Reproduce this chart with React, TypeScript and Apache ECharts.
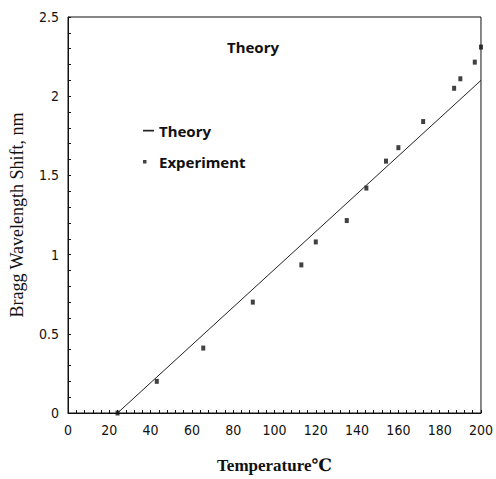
import React, { useEffect, useRef } from "react";
import * as echarts from "echarts";

// Experimental data: temperature (°C) vs Bragg wavelength shift (nm)
const expTemps = [24, 43, 65.5, 89.5, 113, 120, 135, 144.5, 154, 160, 172, 187, 190, 197, 200];
const expShifts = [0, 0.2, 0.41, 0.7, 0.935, 1.08, 1.215, 1.42, 1.59, 1.675, 1.84, 2.05, 2.11, 2.215, 2.31];

// Theory line endpoints
const theoryTemps = [24, 200];
const theoryShifts = [0, 2.1];

const xTicks = [0, 20, 40, 60, 80, 100, 120, 140, 160, 180, 200];
const yTicks = [0, 0.5, 1, 1.5, 2, 2.5];

const labelFont = "'Liberation Sans Narrow', 'DejaVu Sans Condensed', 'Arial Narrow', 'Liberation Sans', sans-serif";

export default function App() {
  const ref = useRef<HTMLDivElement>(null);
  useEffect(() => {
    if (!ref.current) return;
    const chart = echarts.init(ref.current, undefined, { renderer: "svg" });
    const theoryData = theoryTemps.map((t, i) => [t, theoryShifts[i]]);
    const expData = expTemps.map((t, i) => [t, expShifts[i]]);
    chart.setOption({
      animation: false,
      backgroundColor: "#ffffff",
      title: {
        text: "Theory",
        left: 222,
        top: 34,
        textStyle: { fontFamily: "'Noto Sans', sans-serif", fontWeight: "bold", fontSize: 15, color: "#111" },
      },
      legend: {
        orient: "vertical",
        left: 143,
        top: 123,
        padding: 0,
        itemGap: 16,
        itemWidth: 11,
        itemHeight: 10,
        textStyle: { fontFamily: "'Noto Sans', sans-serif", fontWeight: "bold", fontSize: 15, color: "#111" },
        data: [
          { name: "Theory", icon: "path://M0,0 M11,10 M0,4.3 L11,4.3 L11,6 L0,6 Z" },
          { name: "Experiment", icon: "path://M0,0 M11,10 M0,3.5 L3.5,3.5 L3.5,7 L0,7 Z" },
        ],
      },
      grid: {
        left: 67,
        right: 11,
        top: 17,
        bottom: 61,
        show: true,
        borderColor: "#111",
        borderWidth: 1,
      },
      xAxis: {
        type: "value",
        min: xTicks[0],
        max: xTicks[xTicks.length - 1],
        interval: 20,
        name: "Temperature℃",
        nameLocation: "middle",
        nameGap: 44,
        nameTextStyle: { fontFamily: "'Liberation Serif', 'DejaVu Serif', serif", fontWeight: "bold", fontSize: 17, color: "#111" },
        axisLine: { show: true, lineStyle: { color: "#111", width: 1 } },
        axisTick: { show: true, inside: true, length: 3, lineStyle: { color: "#111" } },
        minorTick: { show: true, splitNumber: 5, length: 3, lineStyle: { color: "#111" } },
        splitLine: { show: false },
        axisLabel: { margin: 10, fontFamily: labelFont, fontSize: 14, color: "#111" },
      },
      yAxis: {
        type: "value",
        min: yTicks[0],
        max: yTicks[yTicks.length - 1],
        interval: 0.5,
        name: "Bragg Wavelength Shift, nm",
        nameLocation: "middle",
        nameGap: 42,
        nameTextStyle: { fontFamily: "'Liberation Serif', 'DejaVu Serif', serif", fontSize: 18, color: "#111" },
        axisLine: { show: true, lineStyle: { color: "#111", width: 1 } },
        axisTick: { show: true, inside: true, length: 3, lineStyle: { color: "#111" } },
        minorTick: { show: true, splitNumber: 5, length: 3, lineStyle: { color: "#111" } },
        splitLine: { show: false },
        axisLabel: { margin: 9, fontFamily: labelFont, fontSize: 14, color: "#111" },
      },
      series: [
        {
          name: "Theory",
          type: "line",
          data: theoryData,
          showSymbol: false,
          symbol: "none",
          lineStyle: { color: "#222", width: 1 },
          itemStyle: { color: "#222" },
        },
        {
          name: "Experiment",
          type: "scatter",
          data: expData,
          symbol: "rect",
          symbolSize: [4, 5],
          itemStyle: { color: "#111" },
        },
      ],
    });
    return () => chart.dispose();
  }, []);
  return <div ref={ref} style={{ width: 496, height: 479, position: "absolute", left: 0, top: 0 }} />;
}
